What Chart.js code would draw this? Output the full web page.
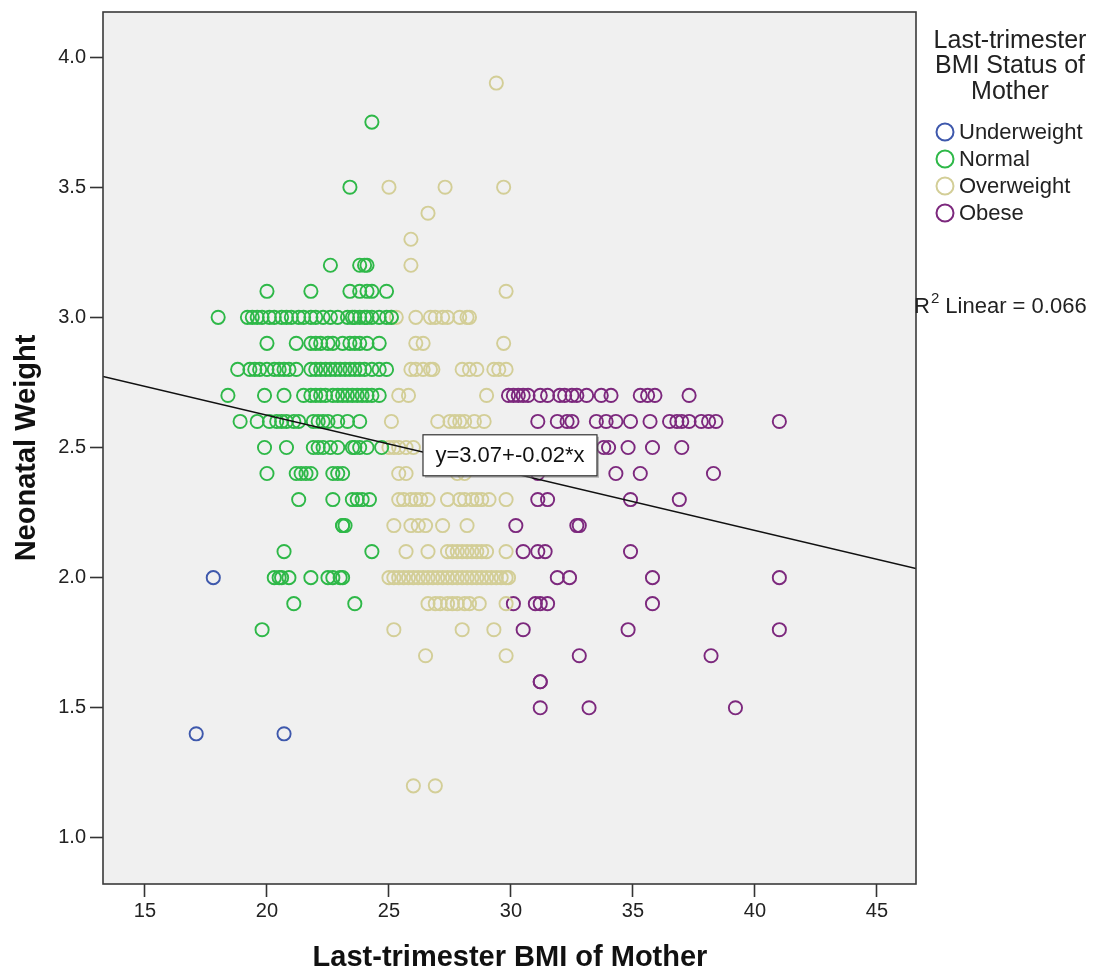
<!DOCTYPE html>
<html>
<head>
<meta charset="utf-8">
<script src="https://cdn.jsdelivr.net/npm/chart.js@4.4.1/dist/chart.umd.min.js"></script>
<style>
  html, body { margin: 0; padding: 0; background: #fff; }
</style>
</head>
<body>
<canvas id="chart" width="1097" height="974"></canvas>
<script>
// rows of [neonatal weight, [BMI values at that weight]]
const underweightRows = [
  [2.0, [17.8]],
  [1.4, [17.1, 20.7]],
];

const normalRows = [
  [3.75, [24.3]],
  [3.5, [23.4]],
  [3.2, [22.6, 23.8, 24.0, 24.1]],
  [3.1, [20.0, 21.8, 23.4, 23.8, 24.1, 24.3, 24.9]],
  [3.0, [18.0, 19.2, 19.4, 19.6, 19.8, 20.1, 20.3, 20.6, 20.8, 21.0, 21.3, 21.5, 21.8, 22.0, 22.3, 22.6, 22.9, 23.3, 23.5, 23.6, 23.8, 24.0, 24.1, 24.3, 24.6, 24.9, 25.1]],
  [2.9, [20.0, 21.2, 21.8, 22.0, 22.2, 22.5, 22.7, 23.1, 23.4, 23.6, 23.8, 24.1, 24.6]],
  [2.8, [18.8, 19.3, 19.5, 19.7, 20.0, 20.3, 20.5, 20.7, 20.9, 21.2, 21.8, 22.0, 22.2, 22.4, 22.6, 22.8, 23.0, 23.2, 23.4, 23.6, 23.8, 24.0, 24.3, 24.6, 24.9]],
  [2.7, [18.4, 19.9, 20.7, 21.5, 21.8, 22.0, 22.2, 22.4, 22.7, 22.9, 23.1, 23.3, 23.5, 23.7, 23.9, 24.1, 24.3, 24.6]],
  [2.6, [18.9, 19.6, 20.1, 20.4, 20.6, 20.8, 21.1, 21.3, 21.9, 22.1, 22.3, 22.5, 22.9, 23.3, 23.8]],
  [2.5, [19.9, 20.8, 21.9, 22.1, 22.3, 22.6, 22.9, 23.5, 23.6, 23.8, 24.1, 24.7]],
  [2.4, [20.0, 21.2, 21.4, 21.6, 21.8, 22.7, 22.9, 23.1]],
  [2.3, [21.3, 22.7, 23.5, 23.7, 23.9, 24.2]],
  [2.2, [23.1, 23.1, 23.2]],
  [2.1, [20.7, 24.3]],
  [2.0, [20.3, 20.5, 20.6, 20.9, 21.8, 22.5, 22.7, 23.0, 23.1]],
  [1.9, [21.1, 23.6]],
  [1.8, [19.8]],
];

const overweightRows = [
  [3.9, [29.4]],
  [3.5, [25.0, 27.3, 29.7]],
  [3.4, [26.6]],
  [3.3, [25.9]],
  [3.2, [25.9]],
  [3.1, [29.8]],
  [3.0, [25.1, 25.3, 26.1, 26.7, 26.9, 27.2, 27.4, 27.9, 28.2, 28.3]],
  [2.9, [26.1, 26.4, 29.7]],
  [2.8, [25.9, 26.1, 26.4, 26.7, 26.8, 28.0, 28.3, 28.6, 29.3, 29.5, 29.8]],
  [2.7, [25.4, 25.8, 29.0]],
  [2.6, [25.1, 27.0, 27.5, 27.7, 27.9, 28.1, 28.5, 28.9]],
  [2.5, [25.0, 25.2, 25.4, 25.7, 26.0]],
  [2.4, [25.4, 25.7, 27.8, 28.1]],
  [2.3, [25.4, 25.6, 25.9, 26.1, 26.3, 26.6, 27.4, 27.9, 28.1, 28.4, 28.6, 28.8, 29.1, 29.8]],
  [2.2, [25.2, 25.9, 26.2, 26.5, 27.2, 28.2]],
  [2.1, [25.7, 26.6, 27.4, 27.6, 27.8, 28.0, 28.2, 28.4, 28.6, 28.8, 29.0, 29.8]],
  [2.0, [25.0, 25.2, 25.4, 25.6, 25.8, 26.0, 26.2, 26.4, 26.6, 26.8, 27.0, 27.2, 27.4, 27.6, 27.8, 28.0, 28.2, 28.4, 28.6, 28.8, 29.0, 29.2, 29.4, 29.6, 29.8, 29.9]],
  [1.9, [26.6, 26.9, 27.1, 27.4, 27.6, 27.8, 28.1, 28.3, 28.7, 29.8]],
  [1.8, [25.2, 28.0, 29.3]],
  [1.7, [26.5, 29.8]],
  [1.2, [26.0, 26.9]],
];

const obeseRows = [
  [2.7, [29.9, 30.1, 30.3, 30.5, 30.7, 31.2, 31.5, 32.0, 32.2, 32.5, 32.7, 33.1, 33.7, 34.1, 35.3, 35.6, 35.9, 37.3]],
  [2.6, [31.1, 31.9, 32.3, 32.5, 33.5, 33.9, 34.3, 34.9, 35.7, 36.5, 36.8, 37.0, 37.3, 37.8, 38.1, 38.4, 41.0]],
  [2.5, [33.8, 34.0, 34.8, 35.8, 37.0]],
  [2.4, [31.1, 34.3, 35.3, 38.3]],
  [2.3, [31.1, 31.5, 34.9, 36.9]],
  [2.2, [30.2, 32.7, 32.8]],
  [2.1, [30.5, 31.1, 31.4, 34.9]],
  [2.0, [31.9, 32.4, 35.8, 41.0]],
  [1.9, [30.1, 31.0, 31.2, 31.5, 35.8]],
  [1.8, [30.5, 34.8, 41.0]],
  [1.7, [32.8, 38.2]],
  [1.6, [31.2, 31.2]],
  [1.5, [31.2, 33.2, 39.2]],
];

// fit line end points
const fitBmi = [13.28, 46.6];
const fitWeight = [2.773, 2.035];

const xTicks = [15, 20, 25, 30, 35, 40, 45];
const yTicks = [1.0, 1.5, 2.0, 2.5, 3.0, 3.5, 4.0];

const groupLabels = ['Underweight', 'Normal', 'Overweight', 'Obese'];
const groupColors = ['#3E58AC', '#2EB848', '#D3CE97', '#7C287D'];
const legendTitle = ['Last-trimester', 'BMI Status of', 'Mother'];
const fitLabel = 'y=3.07+-0.02*x';
const r2Label = ' Linear = 0.066';
const xTitle = 'Last-trimester BMI of Mother';
const yTitle = 'Neonatal Weight';

const FONT = '"Liberation Sans", Arial, sans-serif';

function toPoints(rows) {
  const pts = [];
  rows.forEach(([w, bmis]) => bmis.forEach(b => pts.push({ x: b, y: w })));
  return pts;
}

const groups = [underweightRows, normalRows, overweightRows, obeseRows];

const scatterSets = groups.map((rows, i) => ({
  type: 'scatter',
  label: groupLabels[i],
  data: toPoints(rows),
  borderColor: groupColors[i],
  backgroundColor: 'rgba(0,0,0,0)',
  pointRadius: 6.6,
  pointBorderWidth: 1.9,
  pointHoverRadius: 6.6,
  order: 1,
}));

const fitSet = {
  type: 'line',
  label: 'fit',
  data: fitBmi.map((b, i) => ({ x: b, y: fitWeight[i] })),
  borderColor: '#111',
  borderWidth: 1.4,
  pointRadius: 0,
  fill: false,
  order: 0,
};

const decor = {
  id: 'decor',
  beforeDraw(chart) {
    const { ctx, chartArea: a } = chart;
    ctx.save();
    ctx.fillStyle = '#fff';
    ctx.fillRect(0, 0, chart.width, chart.height);
    ctx.fillStyle = '#F0F0F0';
    ctx.fillRect(a.left, a.top, a.right - a.left, a.bottom - a.top);
    ctx.restore();
  },
  afterDraw(chart) {
    const { ctx, chartArea: a, scales } = chart;
    ctx.save();

    // plot frame
    ctx.strokeStyle = '#3a3a3a';
    ctx.lineWidth = 1.6;
    ctx.strokeRect(a.left, a.top, a.right - a.left, a.bottom - a.top);

    // equation box on the fit line
    const cx = scales.x.getPixelForValue(29.96);
    const cy = scales.y.getPixelForValue(2.47);
    ctx.font = `22px ${FONT}`;
    const bw = 174, bh = 41;
    const bx = cx - bw / 2, by = cy - bh / 2;
    ctx.fillStyle = 'rgba(120,120,120,0.5)';
    ctx.fillRect(bx + 2, by + 2, bw, bh);
    ctx.fillStyle = '#fff';
    ctx.fillRect(bx, by, bw, bh);
    ctx.strokeStyle = '#333';
    ctx.lineWidth = 1.2;
    ctx.strokeRect(bx, by, bw, bh);
    ctx.fillStyle = '#111';
    ctx.textAlign = 'center';
    ctx.textBaseline = 'middle';
    ctx.fillText(fitLabel, cx, cy + 1);

    // axis titles
    ctx.font = `bold 29px ${FONT}`;
    ctx.fillStyle = '#111';
    ctx.fillText(xTitle, 510, 958);
    ctx.save();
    ctx.translate(27, 448);
    ctx.rotate(-Math.PI / 2);
    ctx.fillText(yTitle, 0, 0);
    ctx.restore();

    // legend
    ctx.font = `25px ${FONT}`;
    ctx.fillStyle = '#222';
    legendTitle.forEach((t, i) => ctx.fillText(t, 1010, 41 + i * 25.5));
    ctx.textAlign = 'left';
    ctx.font = `22px ${FONT}`;
    groupLabels.forEach((lab, i) => {
      const y = 132 + i * 27;
      ctx.beginPath();
      ctx.arc(945, y, 8.5, 0, Math.PI * 2);
      ctx.strokeStyle = groupColors[i];
      ctx.lineWidth = 2;
      ctx.stroke();
      ctx.fillStyle = '#222';
      ctx.fillText(lab, 959, y + 1);
    });

    // R² note
    ctx.fillStyle = '#222';
    ctx.font = `22px ${FONT}`;
    ctx.fillText('R', 914, 307);
    let x = 914 + ctx.measureText('R').width;
    ctx.font = `15px ${FONT}`;
    ctx.fillText('2', x + 1, 299);
    x += ctx.measureText('2').width + 1;
    ctx.font = `22px ${FONT}`;
    ctx.fillText(r2Label, x, 307);

    ctx.restore();
  },
};

const tickFont = { family: FONT, size: 20 };

new Chart(document.getElementById('chart'), {
  data: { datasets: [...scatterSets, fitSet] },
  options: {
    responsive: false,
    animation: false,
    layout: { padding: { top: 12, right: 181, left: 0, bottom: 0 } },
    plugins: { legend: { display: false }, tooltip: { enabled: false } },
    scales: {
      x: {
        type: 'linear',
        min: 13.28, max: 46.6,
        afterBuildTicks: s => { s.ticks = xTicks.map(v => ({ value: v })); },
        afterFit: s => { s.height = 90; s.paddingLeft = 0; s.paddingRight = 0; },
        border: { display: false },
        grid: { drawOnChartArea: false, drawTicks: true, tickLength: 13, tickColor: '#333', tickWidth: 1.6 },
        ticks: { color: '#222', font: tickFont, padding: 2, maxRotation: 0, autoSkip: false },
      },
      y: {
        type: 'linear',
        min: 0.823, max: 4.173,
        afterBuildTicks: s => { s.ticks = yTicks.map(v => ({ value: v })); },
        afterFit: s => { s.width = 103; s.paddingTop = 0; s.paddingBottom = 0; },
        border: { display: false },
        grid: { drawOnChartArea: false, drawTicks: true, tickLength: 13, tickColor: '#333', tickWidth: 1.6 },
        ticks: { color: '#222', font: tickFont, padding: 4, callback: v => Number(v).toFixed(1) },
      },
    },
  },
  plugins: [decor],
});
</script>
</body>
</html>
